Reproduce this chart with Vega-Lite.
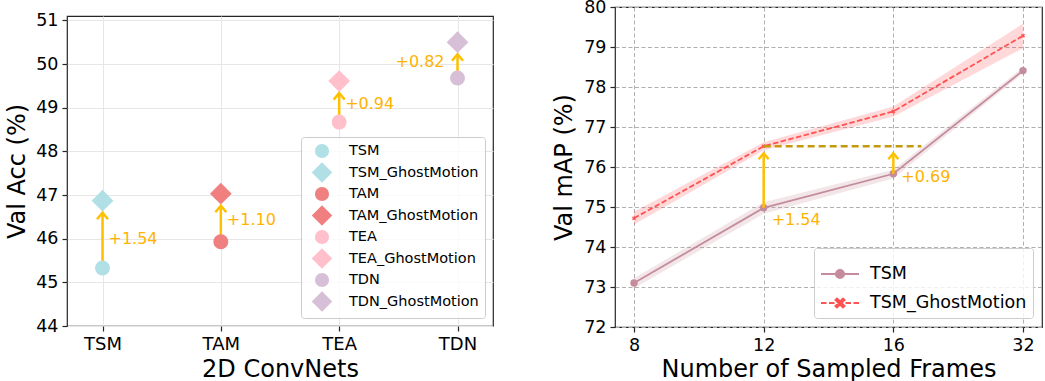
{
  "$schema": "https://vega.github.io/schema/vega-lite/v6.json",
  "padding": {"left": 5, "top": -3, "right": 0, "bottom": 0},
  "spacing": 58,
  "config": {
    "font": "DejaVu Sans",
    "view": {"stroke": "#262626", "strokeWidth": 1.2},
    "axis": {"labelFontSize": 17.5, "titleFontSize": 24, "titleFontWeight": "normal", "labelColor": "#000", "titleColor": "#000", "tickColor": "#262626", "tickSize": 5, "tickWidth": 1.2, "domain": false, "labelPadding": 4, "labelOverlap": false},
    "legend": {"labelFont": "DejaVu Sans", "labelColor": "#000"}
  },
  "datasets": {
    "acc": [
      {"model": "TSM", "series": "TSM", "acc": 45.33},
      {"model": "TSM", "series": "TSM_GhostMotion", "acc": 46.87},
      {"model": "TAM", "series": "TAM", "acc": 45.93},
      {"model": "TAM", "series": "TAM_GhostMotion", "acc": 47.03},
      {"model": "TEA", "series": "TEA", "acc": 48.67},
      {"model": "TEA", "series": "TEA_GhostMotion", "acc": 49.61},
      {"model": "TDN", "series": "TDN", "acc": 49.68},
      {"model": "TDN", "series": "TDN_GhostMotion", "acc": 50.5}
    ],
    "gains": [
      {"model": "TSM", "base": 45.33, "ghost": 46.87, "label": "+1.54", "ly": 45.99, "side": "right"},
      {"model": "TAM", "base": 45.93, "ghost": 47.03, "label": "+1.10", "ly": 46.43, "side": "right"},
      {"model": "TEA", "base": 48.67, "ghost": 49.61, "label": "+0.94", "ly": 49.08, "side": "right"},
      {"model": "TDN", "base": 49.68, "ghost": 50.5, "label": "+0.82", "ly": 50.04, "side": "left"}
    ],
    "frames": [
      {"frames": "8", "method": "TSM", "map": 73.1, "lo": 72.97, "hi": 73.22},
      {"frames": "12", "method": "TSM", "map": 74.98, "lo": 74.83, "hi": 75.12},
      {"frames": "16", "method": "TSM", "map": 75.83, "lo": 75.71, "hi": 75.93},
      {"frames": "32", "method": "TSM", "map": 78.41, "lo": 78.34, "hi": 78.49},
      {"frames": "8", "method": "TSM_GhostMotion", "map": 74.72, "lo": 74.56, "hi": 74.88},
      {"frames": "12", "method": "TSM_GhostMotion", "map": 76.52, "lo": 76.42, "hi": 76.62},
      {"frames": "16", "method": "TSM_GhostMotion", "map": 77.39, "lo": 77.26, "hi": 77.51},
      {"frames": "32", "method": "TSM_GhostMotion", "map": 79.28, "lo": 78.97, "hi": 79.58}
    ],
    "fgains": [
      {"frames": "12", "base": 74.98, "ghost": 76.52, "label": "+1.54", "ly": 74.67},
      {"frames": "16", "base": 75.83, "ghost": 76.52, "label": "+0.69", "ly": 75.75}
    ],
    "ref": [
      {"from": "12", "to": "16", "level": 76.52}
    ]
  },
  "resolve": {"scale": {"color": "independent", "shape": "independent", "stroke": "independent", "x": "independent", "y": "independent"},
              "legend": {"color": "independent", "shape": "independent", "stroke": "independent"}},
  "hconcat": [
    {
      "spacing": 0,
      "resolve": {"legend": {"color": "independent", "shape": "independent"}},
      "vconcat": [
        {
          "width": 426,
          "height": 3,
          "view": {"stroke": null},
          "data": {"values": [{}]},
          "mark": {"type": "rule", "opacity": 0},
          "encoding": {}
        },
        {
          "name": "L",
          "width": 426,
          "height": 310,
          "layer": [
            {
              "data": {"name": "gains"},
              "mark": {"type": "rule", "color": "#FFC000", "strokeWidth": 2.5, "y2Offset": 12},
              "encoding": {
                "x": {"field": "model", "type": "nominal", "scale": {"type": "point", "padding": 0.3, "domain": ["TSM", "TAM", "TEA", "TDN"]},
                      "axis": {"title": "2D ConvNets", "labelAngle": 0, "grid": true, "gridColor": "#e6e6e6", "labelFontSize": 18, "titlePadding": 4}},
                "y": {"field": "base", "type": "quantitative", "scale": {"domain": [44, 51.1], "nice": false, "zero": false},
                      "axis": {"title": "Val Acc (%)", "values": [44, 45, 46, 47, 48, 49, 50, 51], "grid": true, "gridColor": "#e6e6e6", "titlePadding": 6}},
                "y2": {"field": "ghost"}
              }
            },
            {
              "data": {"name": "acc"},
              "mark": {"type": "point", "filled": true, "size": 225, "opacity": 1},
              "encoding": {
                "x": {"field": "model", "type": "nominal"},
                "y": {"field": "acc", "type": "quantitative"},
                "color": {"field": "series", "type": "nominal",
                  "scale": {"domain": ["TSM", "TSM_GhostMotion", "TAM", "TAM_GhostMotion", "TEA", "TEA_GhostMotion", "TDN", "TDN_GhostMotion"],
                            "range": ["#B0E0E6", "#B0E0E6", "#F08080", "#F08080", "#FFC0CB", "#FFC0CB", "#D8BFD8", "#D8BFD8"]},
                  "legend": {"title": null, "orient": "bottom-right", "offset": 8, "labelFontSize": 14.5, "symbolSize": 200, "rowPadding": 2.5, "padding": 6, "labelOffset": 19, "fillColor": "rgba(255,255,255,0.8)", "strokeColor": "#cccccc", "cornerRadius": 3, "symbolOffset": 7}},
                "shape": {"field": "series", "type": "nominal",
                  "scale": {"domain": ["TSM", "TSM_GhostMotion", "TAM", "TAM_GhostMotion", "TEA", "TEA_GhostMotion", "TDN", "TDN_GhostMotion"],
                            "range": ["circle", "M-1.45,0L0,-1.45L1.45,0L0,1.45Z", "circle", "M-1.45,0L0,-1.45L1.45,0L0,1.45Z", "circle", "M-1.45,0L0,-1.45L1.45,0L0,1.45Z", "circle", "M-1.45,0L0,-1.45L1.45,0L0,1.45Z"]},
                  "legend": {"title": null, "orient": "bottom-right", "offset": 8, "labelFontSize": 14.5, "symbolSize": 200, "rowPadding": 2.5, "padding": 6, "labelOffset": 19, "fillColor": "rgba(255,255,255,0.8)", "strokeColor": "#cccccc", "cornerRadius": 3, "symbolOffset": 7}}
              }
            },
            {
              "data": {"name": "gains"},
              "mark": {"type": "point", "shape": "M-1,1.2L0,0L1,1.2", "size": 121, "filled": false, "color": "#FFC000", "strokeWidth": 2.5, "yOffset": 12, "opacity": 1},
              "encoding": {
                "x": {"field": "model", "type": "nominal"},
                "y": {"field": "ghost", "type": "quantitative"}
              }
            },
            {
              "data": {"name": "gains"},
              "transform": [{"filter": "datum.side === 'right'"}],
              "mark": {"type": "text", "align": "left", "baseline": "middle", "dx": 6, "fontSize": 16, "color": "#FFB300"},
              "encoding": {
                "x": {"field": "model", "type": "nominal"},
                "y": {"field": "ly", "type": "quantitative"},
                "text": {"field": "label"}
              }
            },
            {
              "data": {"name": "gains"},
              "transform": [{"filter": "datum.side === 'left'"}],
              "mark": {"type": "text", "align": "right", "baseline": "middle", "dx": -13, "fontSize": 16, "color": "#FFB300"},
              "encoding": {
                "x": {"field": "model", "type": "nominal"},
                "y": {"field": "ly", "type": "quantitative"},
                "text": {"field": "label"}
              }
            }
          ]
        }
      ]
    },
    {
      "name": "R",
      "width": 427,
      "height": 320,
      "layer": [
        {
          "data": {"name": "frames"},
          "transform": [{"filter": "datum.method === 'TSM'"}],
          "mark": {"type": "area", "opacity": 0.22, "color": "#C48C9C"},
          "encoding": {
            "x": {"field": "frames", "type": "nominal", "sort": null, "scale": {"type": "point", "padding": 0.1465, "domain": ["8", "12", "16", "32"]},
                  "axis": {"title": "Number of Sampled Frames", "labelAngle": 0, "grid": true, "gridColor": "#b0b0b0", "gridDash": [4, 2.5], "titlePadding": 4}},
            "y": {"field": "lo", "type": "quantitative", "scale": {"domain": [72, 80], "nice": false, "zero": false},
                  "axis": {"title": "Val mAP (%)", "values": [72, 73, 74, 75, 76, 77, 78, 79, 80], "tickCount": 9, "grid": true, "gridColor": "#b0b0b0", "gridDash": [4, 2.5], "titlePadding": 7}},
            "y2": {"field": "hi"}
          }
        },
        {
          "data": {"name": "frames"},
          "transform": [{"filter": "datum.method === 'TSM_GhostMotion'"}],
          "mark": {"type": "area", "opacity": 0.22, "color": "#FF5252"},
          "encoding": {
            "x": {"field": "frames", "type": "nominal", "sort": null},
            "y": {"field": "lo", "type": "quantitative"},
            "y2": {"field": "hi"}
          }
        },
        {
          "data": {"name": "frames"},
          "transform": [{"filter": "datum.method === 'TSM'"}],
          "mark": {"type": "line", "strokeWidth": 1.8, "color": "#C48C9C"},
          "encoding": {
            "x": {"field": "frames", "type": "nominal", "sort": null},
            "y": {"field": "map", "type": "quantitative"}
          }
        },
        {
          "data": {"name": "frames"},
          "transform": [{"filter": "datum.method === 'TSM_GhostMotion'"}],
          "mark": {"type": "line", "strokeWidth": 1.8, "color": "#FF5252", "strokeDash": [5.5, 2.4]},
          "encoding": {
            "x": {"field": "frames", "type": "nominal", "sort": null},
            "y": {"field": "map", "type": "quantitative"}
          }
        },
        {
          "data": {"name": "frames"},
          "transform": [{"filter": "datum.method === 'TSM'"}],
          "mark": {"type": "point", "filled": true, "size": 55, "opacity": 1, "color": "#C48C9C"},
          "encoding": {
            "x": {"field": "frames", "type": "nominal", "sort": null},
            "y": {"field": "map", "type": "quantitative"}
          }
        },
        {
          "data": {"name": "frames"},
          "transform": [{"filter": "datum.method === 'TSM_GhostMotion'"}],
          "mark": {"type": "point", "filled": false, "size": 9, "strokeWidth": 1.5, "opacity": 1, "shape": "M-1,-1L1,1M-1,1L1,-1", "color": "#FF5252"},
          "encoding": {
            "x": {"field": "frames", "type": "nominal", "sort": null},
            "y": {"field": "map", "type": "quantitative"}
          }
        },
        {
          "data": {"name": "ref"},
          "mark": {"type": "rule", "color": "#C49A0C", "strokeWidth": 2.5, "strokeDash": [7, 4], "x2Offset": 28},
          "encoding": {
            "x": {"field": "from", "type": "nominal"},
            "x2": {"field": "to"},
            "y": {"field": "level", "type": "quantitative"}
          }
        },
        {
          "data": {"name": "fgains"},
          "mark": {"type": "rule", "color": "#FFC000", "strokeWidth": 2.5, "y2Offset": 7},
          "encoding": {
            "x": {"field": "frames", "type": "nominal"},
            "y": {"field": "base", "type": "quantitative"},
            "y2": {"field": "ghost"}
          }
        },
        {
          "data": {"name": "fgains"},
          "mark": {"type": "point", "shape": "M-1,1.2L0,0L1,1.2", "size": 100, "filled": false, "color": "#FFC000", "strokeWidth": 2.5, "yOffset": 7, "opacity": 1},
          "encoding": {
            "x": {"field": "frames", "type": "nominal"},
            "y": {"field": "ghost", "type": "quantitative"}
          }
        },
        {
          "data": {"name": "fgains"},
          "mark": {"type": "text", "align": "left", "baseline": "middle", "dx": 8, "fontSize": 16, "color": "#FFB300"},
          "encoding": {
            "x": {"field": "frames", "type": "nominal"},
            "y": {"field": "ly", "type": "quantitative"},
            "text": {"field": "label"}
          }
        },
        {
          "data": {"name": "frames"},
          "mark": {"type": "point", "filled": true, "size": 1444, "opacity": 0, "strokeWidth": 1.8},
          "encoding": {
            "x": {"field": "frames", "type": "nominal", "sort": null},
            "y": {"field": "map", "type": "quantitative"},
            "color": {"field": "method", "type": "nominal", "scale": {"domain": ["TSM", "TSM_GhostMotion"], "range": ["#C48C9C", "#FF5252"]},
              "legend": {"title": null, "orient": "bottom-right", "offset": 9, "labelFontSize": 17.5, "symbolSize": 1444, "symbolStrokeWidth": 1.8, "symbolOpacity": 1, "rowPadding": 0, "padding": 6, "labelOffset": 10, "fillColor": "rgba(255,255,255,0.8)", "strokeColor": "#cccccc", "cornerRadius": 3}},
            "stroke": {"field": "method", "type": "nominal", "scale": {"domain": ["TSM", "TSM_GhostMotion"], "range": ["#C48C9C", "#FF5252"]},
              "legend": {"title": null, "orient": "bottom-right", "offset": 9, "labelFontSize": 17.5, "symbolSize": 1444, "symbolStrokeWidth": 1.8, "symbolOpacity": 1, "rowPadding": 0, "padding": 6, "labelOffset": 10, "fillColor": "rgba(255,255,255,0.8)", "strokeColor": "#cccccc", "cornerRadius": 3}},
            "shape": {"field": "method", "type": "nominal", "scale": {"domain": ["TSM", "TSM_GhostMotion"],
                "range": ["M-1,0L1,0M0.22,0A0.22,0.22,0,1,1,-0.22,0A0.22,0.22,0,1,1,0.22,0Z",
                          "M-1,0L-0.71,0M-0.58,0L-0.29,0M0.29,0L0.58,0M0.71,0L1,0M-0.158,-0.242L0.242,0.158L0.158,0.242L-0.242,-0.158ZM-0.158,0.242L-0.242,0.158L0.158,-0.242L0.242,-0.158Z"]},
              "legend": {"title": null, "orient": "bottom-right", "offset": 9, "labelFontSize": 17.5, "symbolSize": 1444, "symbolStrokeWidth": 1.8, "symbolOpacity": 1, "rowPadding": 0, "padding": 6, "labelOffset": 10, "fillColor": "rgba(255,255,255,0.8)", "strokeColor": "#cccccc", "cornerRadius": 3}}
          }
        }
      ]
    }
  ]
}
